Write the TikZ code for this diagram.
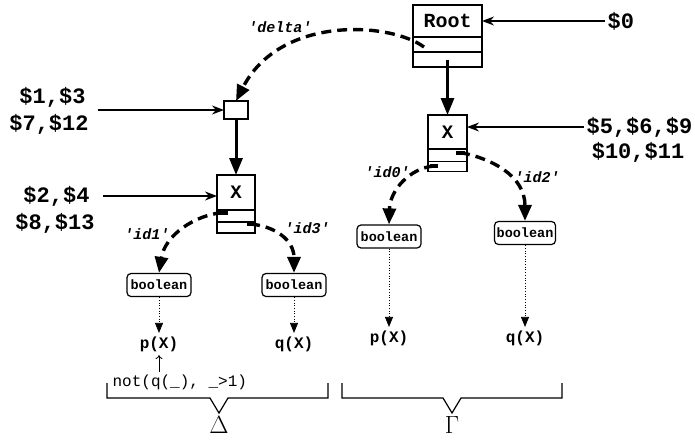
\documentclass[tikz,border=0pt]{standalone}
\usepackage{fontspec}
\newfontfamily\mono{Liberation Mono}
\usetikzlibrary{arrows.meta,positioning}

\begin{document}
\begin{tikzpicture}[x=1pt,y=-1pt,line width=1.2pt,inner sep=0pt,
    cell/.style={draw,outer sep=0pt,font=\mono\bfseries\fontsize{20}{22}\selectfont},
    tag/.style={fill=black,minimum width=9pt,minimum height=4pt},
    dollar/.style={font=\mono\bfseries\fontsize{22}{24}\selectfont,inner sep=2pt},
    feed/.style={line width=1.3pt,-{Stealth[length=12pt,width=9pt]}},
    down/.style={line width=3pt,-{Triangle[length=17pt,width=13pt]}},
    link/.style={line width=3.4pt,dash pattern=on 10pt off 6pt,-{Triangle[length=16pt,width=13pt]}},
    tname/.style={font=\mono\bfseries\itshape\fontsize{15}{17}\selectfont},
    typebox/.style={draw,rounded corners=4pt,minimum width=64pt,minimum height=23pt,
      font=\mono\bfseries\fontsize{13.5}{15}\selectfont},
    atom/.style={font=\mono\bfseries\fontsize{16}{18}\selectfont,inner sep=3pt},
    ref/.style={line width=0.7pt,dotted,-{Triangle[length=10pt,width=8pt]}}]
    \path[use as bounding box] (0,0) rectangle (695,439);
    % Gamma side
    \node[cell,minimum width=69pt,minimum height=32pt] (root) at (447.5,21) {Root};
    \node[cell,minimum width=69pt,minimum height=15pt,below=0pt of root] (rootmid) {};
    \node[cell,minimum width=69pt,minimum height=15pt,below=0pt of rootmid] (rootlow) {};
    \coordinate (rootdl) at (424,47);
    \node[cell,minimum width=39pt,minimum height=34pt,font=\mono\bfseries\fontsize{19}{21}\selectfont]
      (xr) at (447.5,132) {X};
    \node[cell,minimum width=39pt,minimum height=12.5pt,below=0pt of xr] (xrmid) {};
    \node[cell,minimum width=39pt,minimum height=10pt,below=0pt of xrmid] (xrlow) {};
    \node[tag] (xrtag) at (460,152.5) {};
    \node[tag,minimum width=8pt] (xrltag) at (434,166) {};
    % Delta side
    \node[cell,minimum width=24pt,minimum height=18pt] (sq) at (236,110) {};
    \node[cell,minimum width=38pt,minimum height=35pt,font=\mono\bfseries\fontsize{19}{21}\selectfont]
      (xl) at (236,192.5) {X};
    \node[cell,minimum width=38pt,minimum height=12pt,below=0pt of xl] (xlmid) {};
    \node[cell,minimum width=38pt,minimum height=11pt,below=0pt of xlmid] (xllow) {};
    \node[tag,minimum width=10pt] (xltag) at (223,212.5) {};
    \node[tag,minimum width=7pt] (xlltag) at (250,224) {};
    % dollar labels
    \node[dollar,anchor=west] (d0) at (605,21) {\$0};
    \node[dollar,anchor=west] (d569) at (584,127) {\$5,\$6,\$9};
    \node[dollar] (d1011) at (638,152) {\$10,\$11};
    \node[dollar] (d13) at (52.5,97) {\$1,\$3};
    \node[dollar] (d712) at (49,124) {\$7,\$12};
    \node[dollar] (d24) at (56.5,196) {\$2,\$4};
    \node[dollar] (d813) at (55,223) {\$8,\$13};
    \draw[feed] (d0.west) -- (root.east);
    \draw[feed] (d569.west) -- (d569.west -| xr.east);
    \draw[feed] ([xshift=9.5pt]d13.east |- sq.west) -- (sq.west);
    \draw[feed] ([xshift=11pt]d24.east) -- (d24.east -| xl.west);
    \draw[down] (rootlow.center) -- (xr.north);
    \draw[down] (sq.south) -- (xl.north);
    % types and atoms
    \node[typebox] (bl1) at (159,285) {boolean};
    \node[typebox] (bl2) at (294,285) {boolean};
    \node[typebox] (br1) at (389,236.5) {boolean};
    \node[typebox,minimum width=61pt] (br2) at (525,233) {boolean};
    \node[atom] (pl) at (159,344) {p(X)};
    \node[atom] (ql) at (294,344) {q(X)};
    \node[atom] (pr) at (389,338) {p(X)};
    \node[atom] (qr) at (525,338) {q(X)};
    \foreach \a/\b in {bl1/pl,bl2/ql,br1/pr,br2/qr}
      \draw[ref] (\a.south) -- (\b.north);
    \draw[link] (rootdl) .. controls (390,22) and (280,15) .. (sq.north);
    \draw[link] (xltag.center) .. controls (195,215) and (165,235) .. (bl1.north);
    \draw[link] (xlltag.center) .. controls (275,226) and (294,240) .. (bl2.north);
    \draw[link] (xrltag.center) .. controls (410,168) and (390,190) .. (br1.north);
    \draw[link] (xrtag.center) .. controls (490,158) and (525,175) .. (br2.north);
    \node[tname] (ldelta) at (280,27) {'delta'};
    \node[tname] (lid1) at (147,234) {'id1'};
    \node[tname] (lid3) at (307,228) {'id3'};
    \node[tname] (lid0) at (387,172) {'id0'};
    \node[tname] (lid2) at (537,177) {'id2'};
    \node[font=\mono\fontsize{16}{18}\selectfont,anchor=west,inner sep=2pt] (notq) at (110,382)
      {not(q(\_), \_>1)};
    \draw[line width=0.8pt,-{To[length=4pt,width=7pt]}] (pl.south |- notq.north) -- (pl.south);
    % braces
    \node[font=\fontsize{27}{29}\selectfont] (delta) at (219,425) {$\Delta$};
    \node[font=\fontsize{27}{29}\selectfont] (gamma) at (452,425) {$\Gamma$};
    \draw (107,383) -- (107,398) -- (210,398) -- (219,413) -- (228,398) -- (328,398) -- (328,383);
    \draw (342,383) -- (342,398) -- (443,398) -- (452,413) -- (461,398) -- (562,398) -- (562,383);
\end{tikzpicture}
\end{document}
